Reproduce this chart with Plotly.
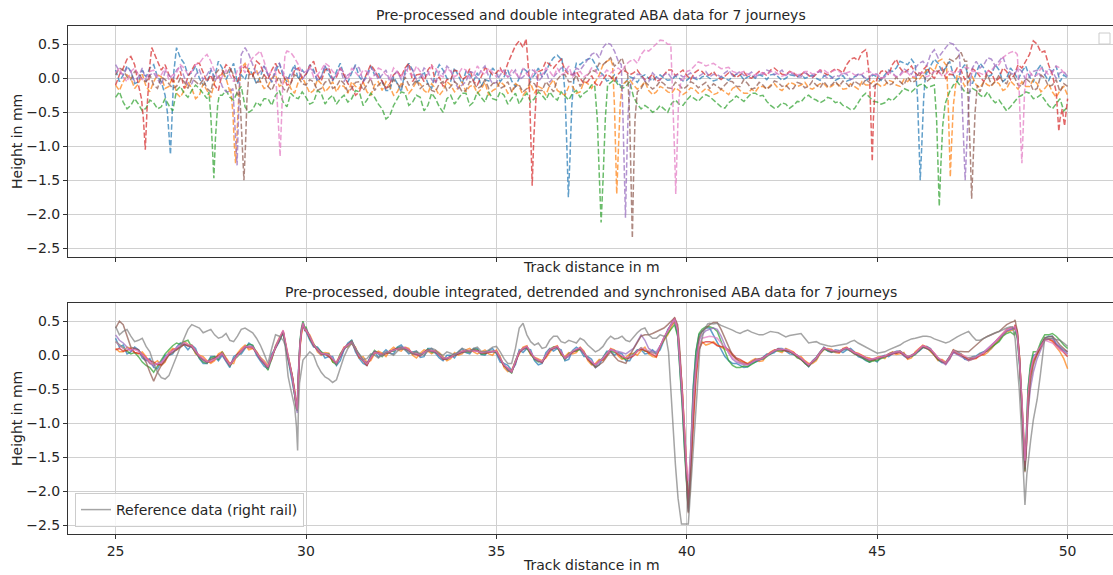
import numpy as np
import plotly.graph_objects as go

# ---------------- data ----------------
grid_x = np.round(np.linspace(25, 50, 126), 2)     # readings every 0.2 m
grid_mid = np.round(np.linspace(25.1, 49.9, 125), 2)  # in-between readings (noise)
ticks_x = [25, 30, 35, 40, 45, 50]
ticks_y = [0.5, 0.0, -0.5, -1.0, -1.5, -2.0, -2.5]
journeys = ["Journey 1", "Journey 2", "Journey 3", "Journey 4", "Journey 5", "Journey 6", "Journey 7"]
colors = ["#1f77b4", "#ff7f0e", "#2ca02c", "#d62728", "#9467bd", "#8c564b", "#e377c2"]

# ---- top panel: raw double-integrated journeys ----
top_blue = [
    0.12, 0.05, 0.10, -0.05, 0.02, 0.20, -0.05, -0.40, 0.45, 0.22,
    0.08, 0.00, -0.06, 0.02, 0.15, 0.10, -0.08, -0.02, 0.05, 0.02,
    0.06, 0.10, 0.03, 0.08, -0.02, 0.05, 0.12, 0.02, 0.06, 0.10,
    0.04, 0.08, 0.02, 0.06, 0.05, -0.05, -0.18, -0.08, 0.10, 0.12,
    -0.02, -0.08, 0.08, 0.12, -0.04, 0.04, 0.10, -0.04, -0.12, -0.04,
    0.08, 0.02, -0.04, 0.00, 0.10, 0.05, 0.02, 0.22, 0.34, 0.25,
    0.10, 0.20, 0.28, 0.20, 0.05, -0.02, -0.08, -0.05, 0.00, 0.02,
    0.00, 0.02, 0.00, -0.02, 0.00, -0.03, 0.00, 0.02, 0.00, -0.02,
    0.00, 0.02, 0.05, 0.02, 0.00, 0.03, 0.05, 0.02, 0.00, 0.04,
    0.06, 0.02, 0.00, 0.03, 0.02, 0.00, -0.04, 0.02, 0.05, 0.00,
    0.02, 0.05, 0.10, 0.25, 0.20, 0.10, -0.50, 0.18, 0.22, 0.15,
    0.05, 0.12, 0.02, 0.08, 0.15, 0.05, 0.12, 0.00, 0.08, 0.10,
    0.02, 0.12, 0.05, 0.10, -0.05, 0.00]
top_blue_mid = [
    -0.05, 0.18, -0.08, 0.12, 0.15, 0.02, -0.20, 0.10, 0.30, 0.05,
    0.18, -0.10, 0.12, 0.25, -0.02, 0.22, 0.05, 0.15, -0.08, 0.18,
    -0.06, 0.22, -0.05, 0.20, 0.12, 0.20, -0.05, 0.18, -0.04, 0.22,
    -0.06, 0.20, -0.05, 0.18, 0.08, -0.18, 0.02, -0.20, 0.22, -0.06,
    0.10, -0.15, 0.20, 0.00, 0.15, -0.08, 0.05, 0.08, -0.02, 0.15,
    -0.05, 0.12, -0.12, 0.15, -0.02, 0.15, 0.10, 0.30, 0.28, 0.00,
    0.22, 0.25, 0.30, 0.10, -0.04, 0.05, -0.12, 0.02, -0.06, 0.05,
    -0.04, 0.05, -0.03, 0.03, -0.04, 0.02, -0.03, 0.04, -0.04, 0.02,
    -0.03, 0.06, -0.02, 0.04, 0.05, -0.02, 0.06, -0.03, 0.05, 0.02,
    0.00, 0.05, -0.03, 0.06, -0.03, 0.04, -0.02, 0.06, -0.03, 0.05,
    -0.03, 0.12, 0.15, 0.22, 0.28, -1.00, 0.05, 0.28, 0.10, 0.25,
    -0.05, 0.20, -0.08, 0.22, 0.02, 0.20, -0.05, 0.15, -0.02, 0.18,
    -0.06, 0.20, -0.04, 0.18, 0.05]
top_blue_dip_x = [26.30, 26.36, 26.41, 26.44, 26.48, 26.53,
                  36.72, 36.80, 36.85, 36.89, 36.93, 36.98, 37.05,
                  46.00, 46.06, 46.10, 46.13, 46.17, 46.22, 46.28]
top_blue_dip_y = [-0.25, -0.50, -0.90, -1.12, -0.60, 0.10,
                  0.30, -0.20, -1.00, -1.75, -1.20, -0.40, 0.10,
                  0.20, -0.30, -0.90, -1.50, -1.00, -0.30, 0.15]

top_orange = [
    -0.10, -0.05, 0.00, -0.08, -0.12, -0.05, 0.02, -0.12, -0.22, -0.18,
    -0.15, -0.25, -0.18, -0.05, 0.08, -0.20, -0.60, 0.22, 0.05, -0.05,
    -0.12, 0.05, -0.08, -0.15, -0.05, -0.10, -0.18, -0.08, -0.14, -0.20,
    -0.12, -0.05, -0.15, -0.20, -0.10, -0.18, -0.12, -0.20, -0.10, -0.15,
    -0.08, -0.22, -0.15, -0.18, -0.10, -0.14, -0.20, -0.10, -0.16, -0.25,
    -0.15, -0.10, -0.20, -0.12, -0.18, -0.22, -0.15, -0.10, -0.18, -0.25,
    -0.12, -0.20, -0.08, -0.05, 0.20, 0.28, -0.60, -0.05, -0.10, -0.12,
    -0.18, -0.20, -0.15, -0.22, -0.18, -0.20, -0.16, -0.20, -0.18, -0.22,
    -0.20, -0.15, -0.18, -0.22, -0.20, -0.12, -0.10, -0.15, -0.12, -0.08,
    -0.10, -0.14, -0.12, -0.08, -0.12, -0.10, -0.15, -0.12, -0.05, -0.10,
    -0.08, -0.10, -0.05, -0.12, -0.05, 0.00, 0.05, 0.15, 0.25, 0.20,
    -0.30, 0.00, -0.05, -0.10, -0.05, -0.12, -0.08, -0.15, -0.10, -0.05,
    -0.12, -0.08, -0.15, -0.20, -0.18, -0.25]
top_orange_mid = [
    -0.18, 0.05, -0.15, 0.06, -0.20, 0.05, -0.15, 0.02, -0.28, -0.05,
    -0.30, -0.08, -0.28, 0.02, 0.00, -0.50, 0.10, 0.10, 0.12, -0.15,
    0.00, -0.12, 0.02, -0.22, 0.02, -0.22, -0.02, -0.20, -0.05, -0.10,
    -0.22, -0.12, -0.05, -0.25, -0.05, -0.05, -0.25, -0.08, -0.22, -0.05,
    -0.18, -0.08, -0.25, -0.05, -0.20, -0.05, -0.12, -0.22, -0.06, -0.18,
    -0.05, -0.22, -0.08, -0.25, -0.08, -0.12, -0.25, -0.02, -0.22, -0.12,
    -0.22, -0.05, -0.15, 0.05, 0.25, -0.50, -0.10, -0.02, -0.16, -0.05,
    -0.24, -0.12, -0.20, -0.14, -0.24, -0.14, -0.22, -0.15, -0.24, -0.16,
    -0.24, -0.12, -0.22, -0.16, -0.12, -0.16, -0.08, -0.18, -0.06, -0.12,
    -0.06, -0.16, -0.08, -0.14, -0.07, -0.16, -0.08, -0.16, -0.10, -0.04,
    -0.12, -0.03, -0.10, -0.02, 0.02, -0.02, 0.12, 0.10, 0.28, -1.00,
    0.05, -0.12, 0.02, -0.14, -0.10, -0.04, -0.18, -0.04, -0.16, -0.12,
    -0.02, -0.20, -0.08, -0.28, -0.12]
top_orange_dip_x = [28.02, 28.08, 28.12, 28.15, 28.19, 28.24, 28.30,
                    38.05, 38.10, 38.13, 38.16, 38.20, 38.25, 38.30,
                    46.82, 46.86, 46.90, 46.92, 46.95, 47.00, 47.06]
top_orange_dip_y = [-0.15, -0.50, -1.00, -1.25, -0.80, -0.20, 0.15,
                    0.20, -0.40, -1.20, -1.70, -1.10, -0.40, -0.10,
                    0.20, -0.30, -1.10, -1.45, -1.00, -0.40, -0.10]

top_green = [
    -0.28, -0.35, -0.40, -0.38, -0.44, -0.36, -0.42, -0.40, -0.18, -0.22,
    -0.18, -0.15, -0.30, -0.90, -0.25, -0.28, -0.20, -0.42, -0.46, -0.40,
    -0.30, -0.25, -0.35, -0.22, -0.30, -0.28, -0.35, -0.22, -0.30, -0.38,
    -0.25, -0.30, -0.20, -0.32, -0.28, -0.45, -0.55, -0.30, -0.22, -0.35,
    -0.28, -0.40, -0.30, -0.50, -0.25, -0.30, -0.22, -0.35, -0.28, -0.20,
    -0.32, -0.25, -0.30, -0.38, -0.22, -0.30, -0.25, -0.20, -0.32, -0.26,
    -0.22, -0.28, -0.18, -0.30, -1.50, -0.07, -0.10, -0.12, -0.27, -0.45,
    -0.44, -0.47, -0.45, -0.37, -0.38, -0.32, -0.30, -0.28, -0.27, -0.38,
    -0.44, -0.32, -0.30, -0.28, -0.22, -0.25, -0.40, -0.42, -0.38, -0.40,
    -0.35, -0.25, -0.32, -0.33, -0.30, -0.34, -0.42, -0.45, -0.27, -0.28,
    -0.35, -0.36, -0.33, -0.22, -0.18, -0.15, -0.08, -0.12, -1.00, -0.35,
    -0.10, -0.12, -0.22, -0.18, -0.28, -0.30, -0.32, -0.48, -0.35, -0.25,
    -0.22, -0.28, -0.32, -0.45, -0.30, -0.42]
top_green_mid = [
    -0.20, -0.45, -0.30, -0.48, -0.32, -0.45, -0.30, -0.48, -0.12, -0.28,
    -0.10, -0.22, -0.80, -0.40, -0.18, -0.32, -0.12, -0.50, -0.35, -0.30,
    -0.40, -0.18, -0.42, -0.28, -0.20, -0.38, -0.18, -0.38, -0.25, -0.30,
    -0.35, -0.18, -0.40, -0.22, -0.38, -0.60, -0.40, -0.20, -0.40, -0.25,
    -0.48, -0.22, -0.42, -0.30, -0.38, -0.22, -0.40, -0.20, -0.35, -0.30,
    -0.20, -0.38, -0.22, -0.28, -0.35, -0.20, -0.32, -0.28, -0.20, -0.32,
    -0.18, -0.22, -0.10, -1.40, -0.20, -0.02, -0.15, -0.05, -0.38, -0.40,
    -0.50, -0.40, -0.50, -0.32, -0.40, -0.26, -0.34, -0.24, -0.32, -0.42,
    -0.36, -0.26, -0.34, -0.22, -0.26, -0.34, -0.44, -0.36, -0.44, -0.34,
    -0.28, -0.30, -0.36, -0.28, -0.36, -0.40, -0.46, -0.36, -0.22, -0.34,
    -0.38, -0.30, -0.28, -0.15, -0.20, -0.10, -0.14, -0.30, -1.00, -0.20,
    -0.05, -0.20, -0.15, -0.25, -0.20, -0.36, -0.40, -0.42, -0.28, -0.20,
    -0.30, -0.24, -0.40, -0.38, -0.48]
top_green_dip_x = [27.45, 27.50, 27.55, 27.58, 27.62, 27.68, 27.72,
                   37.58, 37.65, 37.70, 37.75, 37.80, 37.86, 37.92,
                   46.50, 46.56, 46.60, 46.63, 46.67, 46.72, 46.78]
top_green_dip_y = [-0.20, -0.55, -1.10, -1.47, -0.90, -0.40, -0.25,
                   -0.10, -0.60, -1.40, -2.12, -1.50, -0.60, -0.10,
                   -0.10, -0.60, -1.30, -1.88, -1.30, -0.70, -0.40]

top_red = [
    -0.10, 0.15, 0.32, -0.10, -0.30, 0.38, 0.12, 0.05, -0.02, -0.15,
    0.12, 0.22, -0.05, -0.10, 0.08, 0.15, -0.05, 0.18, 0.02, 0.20,
    -0.02, 0.22, 0.05, -0.08, 0.15, 0.06, 0.25, -0.04, 0.15, 0.02,
    0.05, -0.12, -0.20, 0.08, 0.12, -0.04, -0.08, 0.10, 0.15, -0.05,
    0.06, 0.12, -0.06, -0.12, -0.02, 0.10, 0.02, -0.05, 0.02, 0.12,
    0.08, 0.05, 0.35, 0.55, 0.30, -0.50, 0.12, 0.20, 0.22, 0.12,
    0.05, 0.00, -0.05, -0.08, -0.02, 0.02, 0.06, 0.10, 0.08, 0.04,
    0.00, -0.05, 0.05, 0.12, 0.08, 0.04, 0.08, 0.10, 0.05, 0.02,
    0.03, 0.06, 0.05, 0.02, 0.05, 0.08, 0.12, 0.10, 0.05, 0.08,
    0.05, 0.04, 0.06, 0.08, 0.10, 0.12, 0.20, 0.30, 0.38, 0.35,
    0.00, 0.12, 0.20, 0.15, 0.12, 0.08, 0.12, 0.05, 0.10, 0.00,
    0.05, 0.12, 0.02, 0.10, -0.05, 0.08, 0.00, 0.10, 0.05, 0.15,
    0.35, 0.50, 0.40, 0.05, -0.60, -0.30]
top_red_mid = [
    0.05, 0.28, 0.20, -0.40, 0.20, 0.25, 0.20, -0.05, 0.10, 0.02,
    0.22, 0.08, 0.05, -0.18, 0.20, 0.02, 0.12, 0.08, 0.25, 0.05,
    0.12, 0.08, -0.10, 0.12, 0.00, 0.18, 0.05, 0.12, -0.02, 0.15,
    -0.08, -0.25, -0.05, 0.20, 0.02, -0.15, 0.05, 0.02, 0.22, 0.05,
    -0.05, 0.20, 0.02, -0.02, 0.12, -0.02, 0.14, -0.10, 0.15, 0.05,
    0.15, 0.22, 0.48, 0.45, -1.00, 0.00, 0.25, 0.15, 0.28, 0.05,
    0.10, -0.08, 0.04, -0.12, 0.06, -0.04, 0.12, 0.05, 0.12, -0.02,
    0.06, -0.02, 0.12, 0.04, 0.12, -0.02, 0.12, 0.04, 0.10, -0.02,
    0.08, 0.01, 0.09, 0.00, 0.10, 0.04, 0.15, 0.06, 0.10, 0.03,
    0.10, 0.01, 0.12, 0.05, 0.14, 0.08, 0.28, 0.26, 0.42, -1.00,
    0.10, 0.05, 0.28, 0.08, 0.18, 0.02, 0.18, 0.00, 0.15, 0.06,
    0.15, -0.02, 0.14, 0.02, 0.12, -0.05, 0.15, -0.02, 0.20, 0.25,
    0.55, 0.38, 0.20, -0.30, -0.50]
top_red_dip_x = [25.68, 25.73, 25.78, 25.83, 25.90, 25.95,
                 35.78, 35.86, 35.90, 35.94, 35.98, 36.05, 36.10,
                 44.72, 44.80, 44.84, 44.87, 44.90, 44.95,
                 49.70, 49.74, 49.77, 49.80, 49.86, 49.92]
top_red_dip_y = [-0.30, -0.60, -1.05, -0.40, 0.20, 0.45,
                 0.58, 0.00, -0.80, -1.58, -0.90, -0.20, 0.10,
                 0.40, 0.00, -0.70, -1.22, -0.60, -0.10,
                 -0.20, -0.55, -0.78, -0.60, -0.45, -0.70]

top_purple = [
    0.20, 0.05, 0.10, 0.02, -0.05, 0.08, -0.10, 0.05, 0.12, 0.02,
    -0.08, 0.12, 0.05, -0.05, -0.12, -0.20, -0.50, 0.45, 0.20, 0.10,
    0.05, 0.15, 0.08, 0.00, 0.12, 0.06, 0.10, 0.02, 0.12, 0.05,
    -0.05, 0.08, 0.15, 0.02, 0.10, 0.05, -0.05, 0.10, 0.05, 0.12,
    0.02, 0.10, -0.08, 0.06, 0.12, -0.15, -0.05, 0.08, 0.12, 0.02,
    -0.06, 0.12, 0.05, -0.02, 0.08, 0.10, 0.02, -0.06, 0.08, 0.15,
    0.05, 0.12, 0.28, 0.38, 0.45, 0.50, 0.25, -0.80, 0.00, 0.05,
    -0.05, 0.02, 0.05, 0.00, 0.06, 0.04, 0.00, 0.06, 0.02, 0.05,
    0.08, 0.04, 0.10, 0.05, 0.02, 0.06, 0.10, 0.08, 0.04, 0.06,
    0.02, 0.05, 0.08, 0.04, 0.00, 0.03, 0.06, 0.00, 0.04, 0.02,
    0.06, 0.02, 0.08, 0.05, 0.10, 0.15, 0.25, 0.35, 0.30, 0.45,
    0.50, 0.20, -0.40, 0.25, 0.20, 0.28, 0.25, 0.15, 0.05, 0.10,
    0.02, 0.12, 0.05, 0.10, 0.08, 0.02]
top_purple_mid = [
    0.10, 0.15, -0.05, 0.15, 0.05, -0.02, 0.10, -0.02, 0.18, -0.10,
    0.05, -0.02, 0.15, 0.05, -0.20, -0.60, 0.35, 0.35, 0.05, 0.18,
    -0.05, 0.22, 0.00, 0.15, -0.02, 0.15, -0.02, 0.18, -0.02, 0.15,
    0.05, 0.18, -0.05, 0.15, -0.02, 0.12, 0.05, -0.02, 0.18, -0.02,
    0.15, -0.02, 0.10, 0.18, -0.05, -0.10, 0.10, 0.00, 0.18, -0.08,
    0.05, 0.02, 0.12, 0.02, 0.14, -0.05, 0.12, 0.02, 0.15, 0.08,
    0.15, 0.20, 0.35, 0.30, 0.52, 0.40, 0.00, -0.30, 0.06, -0.04,
    0.08, -0.02, 0.08, 0.04, 0.02, 0.08, 0.02, 0.10, 0.06, 0.02,
    0.12, 0.06, 0.04, 0.09, 0.06, 0.12, 0.05, 0.12, 0.08, 0.02,
    0.08, 0.02, 0.10, 0.00, 0.04, 0.08, -0.02, 0.06, 0.00, 0.07,
    0.00, 0.10, 0.02, 0.14, 0.06, 0.22, 0.18, 0.42, 0.38, 0.52,
    0.42, -1.00, 0.15, 0.15, 0.30, 0.18, 0.32, 0.08, 0.15, -0.02,
    0.10, 0.02, 0.14, 0.00, 0.10]
top_purple_dip_x = [28.08, 28.13, 28.17, 28.19, 28.22, 28.26, 28.30,
                    38.28, 38.32, 38.36, 38.39, 38.42, 38.46, 38.52,
                    47.15, 47.22, 47.27, 47.31, 47.35, 47.40, 47.46]
top_purple_dip_y = [-0.15, -0.60, -1.10, -1.28, -0.70, 0.00, 0.35,
                    0.20, -0.50, -1.40, -2.05, -1.30, -0.50, -0.10,
                    0.40, -0.20, -1.00, -1.50, -1.00, -0.40, 0.00]

top_brown = [
    0.05, 0.12, -0.02, 0.08, -0.05, -0.10, 0.02, -0.08, -0.12, -0.05,
    0.00, -0.10, -0.15, 0.05, 0.12, 0.15, -0.25, -0.80, 0.05, -0.05,
    -0.12, -0.05, -0.15, -0.08, 0.02, -0.10, -0.05, -0.15, -0.02, -0.12,
    -0.08, -0.15, -0.05, -0.10, -0.18, -0.05, -0.12, -0.08, 0.02, -0.10,
    -0.15, -0.08, -0.20, -0.05, -0.12, -0.10, -0.18, -0.06, -0.12, -0.15,
    -0.05, -0.12, -0.20, -0.10, -0.15, -0.08, -0.18, -0.12, -0.02, 0.05,
    -0.05, -0.12, 0.05, 0.10, 0.20, 0.30, 0.22, 0.10, -1.00, -0.15,
    -0.10, -0.12, -0.08, -0.15, -0.10, -0.12, -0.08, -0.10, -0.15, -0.12,
    -0.10, -0.05, -0.12, -0.08, -0.14, -0.10, -0.12, -0.06, -0.10, -0.15,
    -0.08, -0.12, -0.10, -0.05, -0.10, -0.12, -0.08, -0.04, -0.10, -0.06,
    -0.08, -0.02, -0.08, -0.05, 0.02, -0.04, 0.05, 0.00, 0.10, 0.15,
    0.25, 0.38, -0.50, -0.60, -0.05, -0.10, 0.05, -0.08, 0.02, -0.12,
    -0.05, -0.15, 0.00, -0.10, -0.20, -0.12]
top_brown_mid = [
    0.15, 0.02, 0.10, -0.02, 0.05, -0.15, -0.02, -0.15, 0.00, -0.15,
    -0.05, -0.02, -0.20, 0.12, 0.05, 0.05, -0.50, 0.00, -0.06, 0.05,
    -0.18, 0.02, -0.20, 0.05, -0.08, -0.02, -0.18, -0.06, -0.15, -0.02,
    -0.20, -0.06, -0.18, 0.00, -0.10, -0.15, -0.02, -0.15, -0.10, -0.02,
    -0.10, -0.18, -0.08, -0.18, -0.05, -0.20, -0.05, -0.15, -0.02, -0.08,
    -0.15, -0.05, -0.12, -0.20, -0.05, -0.18, -0.05, -0.20, 0.05, -0.05,
    0.05, -0.02, 0.12, 0.22, 0.25, 0.18, 0.30, -0.50, -0.30, -0.05,
    -0.16, -0.04, -0.14, -0.06, -0.16, -0.05, -0.14, -0.06, -0.08, -0.16,
    -0.04, -0.12, -0.02, -0.16, -0.06, -0.16, -0.04, -0.12, -0.16, -0.06,
    -0.14, -0.04, -0.14, -0.12, -0.04, -0.04, -0.14, -0.08, -0.02, -0.12,
    0.00, -0.10, 0.02, -0.10, -0.06, 0.08, -0.05, 0.12, 0.05, 0.28,
    0.30, 0.25, -1.00, -0.20, 0.05, -0.05, -0.05, 0.06, -0.10, 0.00,
    -0.18, 0.05, -0.12, -0.02, -0.08]
top_brown_dip_x = [28.26, 28.31, 28.34, 28.37, 28.41, 28.45, 28.50,
                   38.45, 38.50, 38.54, 38.57, 38.60, 38.64, 38.70,
                   47.35, 47.40, 47.45, 47.48, 47.52, 47.57, 47.63]
top_brown_dip_y = [-0.20, -0.70, -1.20, -1.50, -1.00, -0.30, 0.05,
                   0.05, -0.60, -1.60, -2.35, -1.50, -0.60, -0.20,
                   0.25, -0.40, -1.20, -1.77, -1.20, -0.50, -0.10]

top_pink = [
    0.08, 0.02, 0.10, 0.05, 0.00, 0.12, 0.05, -0.02, 0.08, 0.15,
    0.10, 0.22, 0.35, 0.10, 0.02, 0.05, 0.12, 0.08, 0.30, 0.40,
    0.05, -0.20, -0.50, 0.38, 0.20, 0.10, 0.02, 0.12, 0.18, 0.05,
    0.08, 0.15, 0.02, 0.10, 0.05, 0.12, 0.00, 0.08, 0.14, 0.04,
    0.10, 0.06, 0.15, 0.02, 0.10, 0.06, 0.12, 0.04, 0.10, 0.15,
    0.02, 0.08, 0.12, 0.00, 0.06, 0.12, 0.05, 0.10, 0.15, 0.08,
    0.02, 0.10, 0.06, 0.12, 0.05, 0.08, 0.15, 0.20, 0.28, 0.35,
    0.40, 0.50, 0.55, -0.80, -0.20, 0.10, 0.18, 0.22, 0.20, 0.18,
    0.15, 0.10, 0.08, 0.06, 0.05, 0.08, 0.10, 0.06, 0.05, 0.08,
    0.06, 0.10, 0.08, 0.12, 0.10, 0.10, 0.08, 0.05, 0.06, 0.10,
    0.05, 0.02, 0.06, 0.04, 0.08, 0.03, 0.08, 0.05, 0.10, 0.06,
    0.08, 0.12, 0.15, 0.10, 0.05, 0.12, 0.20, 0.35, 0.40, -1.00,
    0.10, 0.05, 0.12, 0.08, 0.15, 0.10]
top_pink_mid = [
    0.15, -0.05, 0.15, -0.02, 0.10, 0.02, 0.15, 0.05, 0.20, 0.05,
    0.20, 0.30, 0.25, -0.02, 0.12, -0.05, 0.18, 0.22, 0.35, 0.25,
    0.10, -1.00, 0.40, 0.30, 0.08, 0.18, 0.05, 0.22, 0.10, 0.15,
    -0.02, 0.08, 0.12, -0.02, 0.15, 0.05, 0.15, 0.02, 0.08, 0.18,
    0.00, 0.18, 0.05, 0.15, 0.02, 0.15, 0.00, 0.18, 0.05, 0.08,
    0.12, 0.02, 0.08, 0.15, 0.00, 0.05, 0.15, 0.02, 0.05, 0.18,
    0.08, 0.02, 0.15, 0.02, 0.12, 0.12, 0.10, 0.25, 0.22, 0.42,
    0.45, 0.56, 0.50, -1.00, -0.05, 0.12, 0.24, 0.18, 0.22, 0.14,
    0.16, 0.08, 0.10, 0.04, 0.08, 0.05, 0.10, 0.03, 0.09, 0.05,
    0.10, 0.06, 0.12, 0.08, 0.12, 0.06, 0.10, 0.04, 0.10, 0.06,
    0.00, 0.08, 0.02, 0.10, 0.02, 0.08, 0.02, 0.10, 0.04, 0.12,
    0.08, 0.16, 0.10, 0.08, 0.10, 0.18, 0.30, 0.38, 0.35, 0.00,
    0.02, 0.15, 0.05, 0.18, 0.08]
top_pink_dip_x = [29.20, 29.25, 29.29, 29.32, 29.35, 29.39, 29.45,
                  39.58, 39.63, 39.68, 39.71, 39.74, 39.78, 39.85,
                  48.68, 48.73, 48.77, 48.80, 48.83, 48.87, 48.92]
top_pink_dip_y = [0.10, -0.40, -0.90, -1.15, -0.70, -0.10, 0.35,
                  0.50, -0.20, -1.10, -1.70, -1.10, -0.40, 0.00,
                  0.35, -0.20, -0.90, -1.25, -0.80, -0.20, 0.05]

# ---- bottom panel: detrended and synchronised journeys ----
sync_dip_x = [29.50, 29.58, 29.64, 29.70, 29.74, 29.77, 29.80, 29.84, 29.88, 29.92, 29.97,
              39.68, 39.76, 39.82, 39.88, 39.94, 40.00, 40.04, 40.08, 40.12, 40.17, 40.24, 40.32,
              48.62, 48.68, 48.74, 48.80, 48.85, 48.88, 48.92, 48.96, 49.02, 49.10]

sync_blue = [
    0.25, 0.15, 0.05, 0.08, -0.08, -0.18, -0.10, 0.00, 0.12, 0.15,
    0.15, -0.05, -0.12, -0.02, 0.00, -0.18, 0.02, 0.10, 0.14, -0.08,
    -0.20, 0.10, 0.33, -0.15, -0.30, 0.35, 0.12, 0.05, -0.02, -0.15,
    0.08, 0.22, -0.05, -0.15, 0.05, 0.02, 0.03, 0.12, 0.08, 0.05,
    -0.03, 0.10, 0.03, -0.08, 0.00, 0.05, 0.04, 0.10, 0.01, 0.07,
    0.02, -0.12, -0.22, 0.08, 0.10, -0.08, -0.12, 0.10, 0.10, -0.08,
    0.07, 0.08, -0.02, -0.18, -0.03, 0.06, 0.04, -0.08, 0.02, 0.08,
    0.03, 0.02, 0.22, 0.45, 0.30, -1.80, -0.50, 0.35, 0.40, 0.20,
    -0.02, -0.12, -0.15, -0.17, -0.10, -0.03, 0.02, 0.10, 0.06, 0.01,
    -0.06, -0.17, -0.03, 0.12, 0.04, 0.07, 0.08, 0.05, -0.04, -0.10,
    -0.10, 0.00, 0.02, 0.06, -0.05, 0.03, 0.11, 0.10, -0.07, -0.10,
    0.04, 0.02, -0.07, -0.01, 0.05, 0.10, 0.22, 0.35, 0.40, -1.00,
    -0.30, 0.02, 0.25, 0.28, 0.12, 0.02]
sync_blue_mid = [
    0.12, 0.02, 0.12, -0.04, -0.05, -0.20, 0.00, 0.02, 0.18, 0.08,
    0.10, -0.12, -0.02, -0.08, -0.10, -0.02, 0.02, 0.18, 0.00, -0.16,
    0.02, 0.20, 0.00, 0.00, 0.00, 0.22, 0.12, -0.04, -0.02, -0.08,
    0.18, 0.05, -0.12, 0.00, -0.03, 0.08, 0.02, 0.15, 0.02, 0.06,
    -0.02, 0.10, -0.04, 0.00, -0.04, 0.10, 0.02, 0.10, 0.00, 0.10,
    -0.10, -0.15, -0.14, 0.04, 0.08, -0.14, 0.04, 0.06, 0.08, -0.06,
    0.12, -0.02, -0.06, -0.14, 0.06, 0.00, 0.02, -0.08, 0.08, 0.02,
    0.08, 0.08, 0.38, 0.00, 0.00, 0.00, 0.00, 0.40, 0.30, 0.10,
    -0.08, -0.12, -0.18, -0.12, -0.08, 0.02, 0.04, 0.10, 0.02, 0.00,
    -0.12, -0.08, 0.05, 0.06, 0.08, 0.04, 0.10, -0.02, -0.08, -0.06,
    -0.02, -0.02, 0.06, -0.01, 0.00, 0.06, 0.13, 0.00, -0.11, -0.02,
    0.05, -0.06, -0.02, 0.03, 0.06, 0.17, 0.30, 0.38, 0.00, 0.00,
    0.00, 0.16, 0.28, 0.16, 0.06]
sync_blue_dip_y = [0.03, -0.18, -0.35, -0.58, -0.72, -0.70, -0.25, 0.18, 0.38, 0.45, 0.36,
                   0.48, 0.30, -0.15, -0.70, -1.35, -2.00, -2.25, -1.70, -1.00, -0.45, 0.05, 0.30,
                   0.38, 0.28, -0.15, -0.80, -1.40, -1.68, -1.10, -0.50, -0.20, 0.00]

sync_orange = [
    0.10, 0.05, 0.10, 0.02, -0.02, -0.12, -0.15, 0.05, 0.08, 0.20,
    0.15, 0.00, -0.08, -0.08, 0.05, -0.12, 0.03, 0.15, 0.10, -0.03,
    -0.15, 0.14, 0.36, -0.20, -0.30, 0.36, 0.18, 0.00, 0.03, -0.10,
    0.12, 0.18, -0.04, -0.10, 0.02, 0.03, 0.07, 0.08, 0.12, 0.00,
    0.03, 0.06, 0.07, -0.02, -0.05, 0.00, 0.08, 0.05, 0.05, 0.02,
    0.08, -0.18, -0.22, 0.02, 0.14, -0.03, -0.08, 0.05, 0.14, -0.02,
    0.02, 0.12, -0.08, -0.12, -0.08, 0.10, -0.01, -0.03, 0.03, 0.07,
    0.02, -0.03, 0.22, 0.42, 0.30, -1.80, -0.50, 0.20, 0.17, 0.15,
    0.10, 0.00, -0.08, -0.12, -0.05, -0.08, 0.05, 0.06, 0.10, 0.05,
    -0.02, -0.12, -0.08, 0.08, 0.09, 0.03, 0.12, 0.05, 0.00, -0.04,
    -0.03, -0.05, 0.05, 0.02, -0.06, 0.05, 0.15, 0.05, -0.08, -0.10,
    0.08, 0.02, -0.08, -0.05, 0.00, 0.10, 0.22, 0.35, 0.38, -1.00,
    -0.30, 0.00, 0.22, 0.20, 0.05, -0.20]
sync_orange_mid = [
    0.05, 0.12, 0.04, 0.05, -0.12, -0.08, -0.10, 0.10, 0.12, 0.16,
    0.02, -0.02, -0.12, 0.02, -0.04, -0.12, 0.10, 0.08, 0.06, -0.08,
    -0.06, 0.26, 0.00, 0.00, 0.00, 0.30, 0.05, 0.04, -0.10, 0.02,
    0.12, 0.12, -0.02, -0.08, 0.06, -0.02, 0.12, 0.06, 0.10, -0.04,
    0.08, 0.02, 0.04, -0.08, 0.04, 0.02, 0.10, 0.02, 0.08, 0.00,
    -0.02, -0.24, -0.08, 0.12, 0.00, -0.05, -0.04, 0.12, 0.00, 0.04,
    0.04, 0.06, -0.14, -0.06, 0.00, 0.08, -0.06, 0.02, 0.00, 0.12,
    -0.02, 0.14, 0.30, 0.00, 0.00, 0.00, 0.00, 0.15, 0.20, 0.12,
    0.06, -0.06, -0.10, -0.08, -0.09, 0.00, 0.08, 0.04, 0.08, -0.02,
    -0.08, -0.12, 0.02, 0.10, 0.04, 0.10, 0.06, 0.03, -0.03, -0.08,
    -0.02, 0.02, 0.01, 0.04, -0.04, 0.10, 0.12, 0.00, -0.06, -0.06,
    0.02, -0.02, -0.06, 0.02, 0.04, 0.16, 0.28, 0.36, 0.00, 0.00,
    0.00, 0.10, 0.24, 0.12, -0.05]
sync_orange_dip_y = [0.08, -0.12, -0.30, -0.50, -0.70, -0.78, -0.35, 0.10, 0.30, 0.44, 0.40,
                     0.50, 0.38, -0.05, -0.50, -1.10, -1.80, -2.20, -2.00, -1.50, -0.90, -0.30, 0.10,
                     0.42, 0.32, -0.05, -0.60, -1.20, -1.60, -1.30, -0.70, -0.30, -0.10]

sync_green = [
    0.20, 0.10, 0.02, -0.02, -0.15, -0.25, -0.08, 0.08, 0.18, 0.20,
    0.12, -0.04, -0.12, -0.02, 0.05, -0.16, -0.02, 0.12, 0.15, -0.04,
    -0.22, 0.12, 0.34, -0.10, -0.30, 0.42, 0.16, 0.05, 0.02, -0.14,
    0.10, 0.22, 0.00, -0.14, 0.07, -0.02, 0.06, 0.11, 0.09, 0.04,
    0.01, 0.09, 0.04, -0.04, -0.01, 0.04, 0.05, 0.09, 0.02, 0.06,
    0.04, -0.14, -0.26, 0.06, 0.10, -0.06, -0.09, 0.09, 0.11, -0.06,
    0.06, 0.09, -0.04, -0.16, -0.04, 0.07, 0.03, -0.06, 0.01, 0.11,
    0.06, 0.02, 0.24, 0.40, 0.30, -1.80, -0.50, 0.38, 0.42, 0.35,
    0.05, -0.15, -0.18, -0.17, -0.10, -0.06, 0.02, 0.07, 0.09, 0.02,
    -0.06, -0.16, -0.06, 0.09, 0.05, 0.06, 0.09, 0.02, -0.03, -0.10,
    -0.08, -0.03, 0.04, 0.06, -0.02, 0.01, 0.12, 0.07, -0.06, -0.11,
    0.07, 0.01, -0.04, -0.02, 0.04, 0.12, 0.20, 0.32, 0.30, -1.00,
    -0.30, 0.05, 0.30, 0.32, 0.22, 0.10]
sync_green_mid = [
    0.15, 0.06, 0.04, -0.10, -0.18, -0.16, 0.02, 0.14, 0.16, 0.22,
    0.04, -0.10, -0.04, -0.06, -0.06, -0.06, 0.05, 0.16, 0.04, -0.12,
    -0.04, 0.22, 0.00, 0.00, 0.00, 0.24, 0.10, 0.02, -0.10, 0.02,
    0.14, 0.10, -0.08, -0.02, 0.02, 0.04, 0.06, 0.12, 0.06, 0.04,
    0.04, 0.04, 0.02, -0.06, 0.02, 0.06, 0.04, 0.08, 0.02, 0.06,
    -0.06, -0.22, -0.08, 0.10, 0.02, -0.10, 0.00, 0.12, 0.02, 0.02,
    0.06, 0.04, -0.12, -0.08, 0.04, 0.04, -0.04, -0.02, 0.06, 0.06,
    0.04, 0.12, 0.32, 0.00, 0.00, 0.00, 0.00, 0.42, 0.40, 0.20,
    -0.08, -0.18, -0.16, -0.14, -0.06, -0.02, 0.06, 0.06, 0.05, -0.04,
    -0.12, -0.10, 0.03, 0.07, 0.05, 0.08, 0.06, 0.00, -0.07, -0.08,
    -0.05, 0.02, 0.03, 0.02, -0.02, 0.07, 0.10, 0.02, -0.10, -0.04,
    0.04, -0.04, -0.03, 0.01, 0.08, 0.16, 0.28, 0.34, 0.00, 0.00,
    0.00, 0.20, 0.30, 0.28, 0.15]
sync_green_dip_y = [0.02, -0.16, -0.33, -0.57, -0.78, -0.82, -0.28, 0.20, 0.40, 0.50, 0.40,
                    0.45, 0.28, -0.20, -0.75, -1.40, -2.05, -2.30, -1.75, -1.05, -0.50, 0.05, 0.32,
                    0.35, 0.25, -0.15, -0.75, -1.35, -1.70, -1.15, -0.50, -0.15, 0.05]

sync_red = [
    0.08, 0.06, 0.10, 0.03, -0.04, -0.10, -0.14, 0.01, 0.10, 0.16,
    0.14, -0.01, -0.09, -0.06, 0.03, -0.13, 0.01, 0.13, 0.11, -0.06,
    -0.17, 0.11, 0.36, -0.15, -0.30, 0.37, 0.14, 0.03, -0.02, -0.11,
    0.11, 0.19, -0.03, -0.15, 0.04, 0.01, 0.04, 0.09, 0.11, 0.02,
    -0.01, 0.07, 0.06, -0.06, -0.03, 0.02, 0.07, 0.07, 0.04, 0.04,
    0.06, -0.16, -0.24, 0.04, 0.13, -0.04, -0.11, 0.07, 0.13, -0.04,
    0.04, 0.11, -0.06, -0.14, -0.06, 0.09, 0.01, -0.04, -0.01, 0.09,
    0.04, -0.02, 0.26, 0.46, 0.30, -1.80, -0.50, 0.18, 0.20, 0.14,
    0.12, 0.02, -0.06, -0.13, -0.07, -0.04, 0.04, 0.09, 0.07, 0.04,
    -0.04, -0.14, -0.04, 0.11, 0.07, 0.04, 0.11, 0.04, -0.01, -0.06,
    -0.04, -0.01, 0.02, 0.04, -0.04, 0.03, 0.14, 0.09, -0.04, -0.13,
    0.05, -0.01, -0.06, -0.04, 0.02, 0.14, 0.26, 0.38, 0.40, -1.00,
    -0.30, 0.03, 0.24, 0.22, 0.10, -0.02]
sync_red_mid = [
    0.10, 0.07, 0.04, 0.02, -0.08, -0.14, -0.06, 0.08, 0.12, 0.14,
    0.06, -0.06, -0.10, 0.00, -0.06, -0.07, 0.07, 0.11, 0.04, -0.12,
    -0.02, 0.24, 0.00, 0.00, 0.00, 0.26, 0.09, 0.02, -0.07, -0.02,
    0.16, 0.08, -0.08, -0.05, 0.04, 0.02, 0.09, 0.09, 0.08, 0.01,
    0.05, 0.06, 0.00, -0.05, 0.00, 0.06, 0.06, 0.07, 0.03, 0.06,
    -0.06, -0.19, -0.11, 0.10, 0.03, -0.07, -0.02, 0.11, 0.03, 0.01,
    0.07, 0.04, -0.11, -0.09, 0.01, 0.06, -0.02, -0.04, 0.06, 0.07,
    0.02, 0.13, 0.36, 0.00, 0.00, 0.00, 0.00, 0.20, 0.18, 0.13,
    0.08, -0.04, -0.10, -0.10, -0.06, 0.00, 0.07, 0.08, 0.06, 0.00,
    -0.09, -0.09, 0.04, 0.09, 0.06, 0.09, 0.08, 0.02, -0.04, -0.05,
    -0.03, 0.00, 0.03, 0.00, -0.01, 0.09, 0.12, 0.03, -0.08, -0.04,
    0.02, -0.04, -0.05, -0.01, 0.08, 0.20, 0.32, 0.40, 0.00, 0.00,
    0.00, 0.14, 0.23, 0.15, 0.04]
sync_red_dip_y = [0.05, -0.14, -0.31, -0.53, -0.74, -0.79, -0.32, 0.12, 0.33, 0.46, 0.37,
                  0.55, 0.40, 0.00, -0.50, -1.10, -1.75, -2.10, -1.95, -1.50, -0.95, -0.35, 0.08,
                  0.45, 0.35, -0.05, -0.65, -1.25, -1.62, -1.25, -0.65, -0.30, -0.08]

sync_purple = [
    0.30, 0.18, 0.06, 0.08, -0.06, -0.16, -0.10, 0.03, 0.09, 0.17,
    0.12, -0.03, -0.11, -0.04, 0.01, -0.14, -0.01, 0.11, 0.13, -0.06,
    -0.19, 0.13, 0.35, -0.15, -0.30, 0.39, 0.15, 0.01, 0.01, -0.13,
    0.09, 0.21, -0.01, -0.11, 0.06, -0.01, 0.05, 0.10, 0.11, 0.03,
    0.00, 0.08, 0.04, -0.05, -0.02, 0.03, 0.06, 0.08, 0.03, 0.05,
    0.05, -0.15, -0.25, 0.05, 0.12, -0.05, -0.10, 0.08, 0.12, -0.05,
    0.05, 0.10, -0.05, -0.15, -0.05, 0.08, 0.06, 0.02, 0.10, 0.30,
    0.10, 0.05, 0.26, 0.47, 0.30, -1.80, -0.50, 0.30, 0.38, 0.38,
    0.15, -0.06, -0.12, -0.14, -0.08, -0.05, 0.03, 0.08, 0.08, 0.03,
    -0.05, -0.15, -0.05, 0.10, 0.06, 0.05, 0.10, 0.03, -0.02, -0.07,
    -0.05, -0.02, 0.03, 0.05, -0.03, 0.02, 0.13, 0.08, -0.05, -0.14,
    0.04, -0.02, -0.08, -0.03, 0.05, 0.15, 0.24, 0.36, 0.40, -1.00,
    -0.35, -0.05, 0.22, 0.25, 0.12, 0.05]
sync_purple_mid = [
    0.22, 0.12, 0.10, 0.00, -0.12, -0.12, -0.04, 0.05, 0.15, 0.14,
    0.05, -0.08, -0.06, -0.04, -0.08, -0.06, 0.05, 0.14, 0.03, -0.12,
    -0.04, 0.24, 0.00, 0.00, 0.00, 0.28, 0.07, 0.02, -0.06, -0.02,
    0.15, 0.10, -0.08, -0.03, 0.02, 0.04, 0.07, 0.12, 0.06, 0.02,
    0.04, 0.06, 0.00, -0.05, 0.02, 0.04, 0.07, 0.06, 0.05, 0.04,
    -0.06, -0.22, -0.09, 0.08, 0.04, -0.09, 0.00, 0.09, 0.05, -0.02,
    0.08, 0.02, -0.10, -0.10, 0.02, 0.07, 0.04, 0.06, 0.20, 0.22,
    0.06, 0.14, 0.36, 0.00, 0.00, 0.00, 0.00, 0.36, 0.40, 0.28,
    0.03, -0.10, -0.14, -0.11, -0.07, -0.01, 0.06, 0.08, 0.06, -0.01,
    -0.10, -0.10, 0.03, 0.08, 0.05, 0.08, 0.06, 0.00, -0.05, -0.06,
    -0.04, 0.01, 0.04, 0.01, -0.01, 0.08, 0.10, 0.01, -0.10, -0.06,
    0.01, -0.05, -0.06, 0.01, 0.10, 0.20, 0.30, 0.38, 0.00, 0.00,
    0.00, 0.10, 0.24, 0.18, 0.08]
sync_purple_dip_y = [0.04, -0.15, -0.33, -0.56, -0.76, -0.85, -0.30, 0.14, 0.36, 0.48, 0.39,
                     0.52, 0.36, -0.10, -0.65, -1.25, -1.95, -2.30, -1.85, -1.20, -0.60, -0.10, 0.22,
                     0.40, 0.30, -0.10, -0.70, -1.30, -1.65, -1.30, -0.85, -0.50, -0.25]

sync_brown = [
    0.40, 0.45, 0.12, 0.08, -0.10, -0.38, -0.15, 0.00, 0.08, 0.16,
    0.12, -0.02, -0.10, -0.04, 0.02, -0.15, 0.01, 0.12, 0.12, -0.05,
    -0.18, 0.12, 0.34, -0.15, -0.30, 0.38, 0.15, 0.02, 0.00, -0.12,
    0.10, 0.20, -0.02, -0.12, 0.05, 0.00, 0.05, 0.10, 0.10, 0.03,
    0.00, 0.08, 0.05, -0.05, -0.02, 0.03, 0.06, 0.08, 0.03, 0.05,
    0.05, -0.15, -0.25, 0.05, 0.12, -0.05, -0.10, 0.08, 0.12, -0.05,
    0.05, 0.10, -0.05, -0.18, -0.10, 0.05, -0.08, -0.12, 0.10, 0.28,
    0.30, 0.35, 0.40, 0.50, 0.30, -1.80, -0.50, 0.35, 0.45, 0.48,
    0.25, 0.00, -0.10, -0.14, -0.06, -0.04, 0.04, 0.09, 0.07, 0.02,
    -0.06, -0.16, -0.04, 0.11, 0.05, 0.06, 0.11, 0.02, -0.03, -0.08,
    -0.06, -0.01, 0.04, 0.06, -0.02, 0.03, 0.12, 0.07, -0.06, -0.11,
    0.08, 0.05, 0.05, 0.15, 0.25, 0.30, 0.35, 0.45, 0.50, -1.00,
    -0.30, 0.02, 0.26, 0.28, 0.15, 0.05]
sync_brown_mid = [
    0.50, 0.28, 0.10, 0.00, -0.25, -0.25, -0.08, 0.04, 0.12, 0.14,
    0.05, -0.06, -0.07, -0.01, -0.07, -0.07, 0.06, 0.12, 0.03, -0.11,
    -0.03, 0.23, 0.00, 0.00, 0.00, 0.27, 0.08, 0.01, -0.06, -0.01,
    0.15, 0.09, -0.07, -0.04, 0.03, 0.03, 0.08, 0.10, 0.07, 0.02,
    0.04, 0.07, 0.00, -0.04, 0.01, 0.05, 0.07, 0.06, 0.04, 0.05,
    -0.05, -0.20, -0.10, 0.09, 0.04, -0.08, -0.01, 0.10, 0.04, 0.00,
    0.08, 0.03, -0.12, -0.14, -0.02, -0.02, -0.10, 0.00, 0.20, 0.30,
    0.32, 0.38, 0.45, 0.00, 0.00, 0.00, 0.00, 0.40, 0.48, 0.38,
    0.12, -0.05, -0.12, -0.10, -0.05, 0.00, 0.07, 0.08, 0.05, -0.02,
    -0.11, -0.10, 0.04, 0.08, 0.06, 0.09, 0.07, 0.00, -0.06, -0.07,
    -0.04, 0.02, 0.05, 0.02, 0.00, 0.08, 0.10, 0.00, -0.09, -0.02,
    0.06, 0.05, 0.10, 0.20, 0.28, 0.33, 0.40, 0.48, 0.00, 0.00,
    0.00, 0.15, 0.27, 0.22, 0.10]
sync_brown_dip_y = [0.06, -0.14, -0.30, -0.54, -0.74, -0.80, -0.30, 0.15, 0.35, 0.47, 0.38,
                    0.55, 0.45, 0.05, -0.55, -1.20, -1.95, -2.32, -2.00, -1.40, -0.80, -0.20, 0.25,
                    0.52, 0.35, -0.05, -0.70, -1.35, -1.72, -1.35, -0.80, -0.40, -0.15]

sync_pink = [
    0.20, 0.10, 0.09, 0.06, -0.04, -0.14, -0.11, 0.03, 0.11, 0.19,
    0.14, -0.01, -0.09, -0.06, 0.03, -0.14, 0.00, 0.13, 0.12, -0.04,
    -0.17, 0.13, 0.37, -0.15, -0.30, 0.37, 0.16, 0.03, 0.01, -0.11,
    0.11, 0.19, -0.01, -0.13, 0.04, 0.01, 0.06, 0.09, 0.11, 0.04,
    0.01, 0.07, 0.06, -0.04, -0.03, 0.04, 0.07, 0.07, 0.04, 0.06,
    0.06, -0.14, -0.24, 0.06, 0.13, -0.04, -0.09, 0.09, 0.13, -0.04,
    0.06, 0.11, -0.04, -0.14, -0.04, 0.09, 0.03, -0.04, 0.01, 0.11,
    0.06, 0.01, 0.26, 0.46, 0.30, -1.80, -0.50, 0.25, 0.28, 0.25,
    0.12, -0.04, -0.11, -0.14, -0.07, -0.04, 0.04, 0.09, 0.09, 0.04,
    -0.04, -0.14, -0.04, 0.11, 0.07, 0.06, 0.11, 0.04, -0.01, -0.06,
    -0.04, -0.01, 0.04, 0.06, -0.02, 0.03, 0.14, 0.09, -0.04, -0.11,
    0.07, 0.01, -0.04, -0.02, 0.04, 0.14, 0.26, 0.38, 0.42, -1.00,
    -0.30, 0.06, 0.22, 0.18, 0.08, 0.02]
sync_pink_mid = [
    0.15, 0.09, 0.08, 0.01, -0.09, -0.12, -0.04, 0.07, 0.15, 0.16,
    0.06, -0.05, -0.08, -0.02, -0.06, -0.07, 0.07, 0.12, 0.04, -0.10,
    -0.02, 0.25, 0.00, 0.00, 0.00, 0.27, 0.09, 0.02, -0.05, 0.00,
    0.15, 0.09, -0.07, -0.04, 0.03, 0.04, 0.08, 0.10, 0.08, 0.03,
    0.04, 0.07, 0.01, -0.04, 0.01, 0.06, 0.07, 0.06, 0.05, 0.06,
    -0.04, -0.19, -0.09, 0.10, 0.05, -0.07, 0.00, 0.11, 0.05, 0.01,
    0.09, 0.04, -0.09, -0.09, 0.03, 0.06, -0.01, -0.02, 0.06, 0.09,
    0.04, 0.13, 0.36, 0.00, 0.00, 0.00, 0.00, 0.27, 0.27, 0.18,
    0.04, -0.08, -0.13, -0.11, -0.06, 0.00, 0.07, 0.09, 0.07, 0.00,
    -0.09, -0.09, 0.04, 0.09, 0.07, 0.09, 0.08, 0.02, -0.04, -0.05,
    -0.03, 0.02, 0.05, 0.02, 0.00, 0.09, 0.12, 0.03, -0.08, -0.03,
    0.04, -0.02, -0.03, 0.01, 0.09, 0.20, 0.32, 0.40, 0.00, 0.00,
    0.00, 0.14, 0.20, 0.13, 0.05]
sync_pink_dip_y = [0.05, -0.15, -0.32, -0.55, -0.75, -0.80, -0.30, 0.15, 0.35, 0.47, 0.38,
                   0.54, 0.38, -0.05, -0.55, -1.10, -1.70, -1.85, -1.60, -1.20, -0.70, -0.20, 0.15,
                   0.42, 0.30, -0.10, -0.65, -1.25, -1.55, -1.20, -0.60, -0.25, -0.05]

# reference data (right rail)
ref_rail = [
    0.42, 0.35, 0.28, 0.22, 0.13, -0.12, -0.33, -0.30, 0.00, 0.25,
    0.45, 0.40, 0.35, 0.30, 0.27, 0.22, 0.28, 0.40, 0.33, 0.15,
    -0.12, 0.30, 0.22, -0.50, -0.90, -0.02, 0.00, -0.25, -0.35, -0.36,
    -0.02, 0.18, 0.02, -0.05, 0.00, 0.00, 0.03, 0.06, 0.08, 0.02,
    0.02, 0.06, 0.08, 0.00, 0.03, 0.05, 0.08, 0.10, 0.06, 0.08,
    0.13, -0.05, -0.12, 0.40, 0.30, 0.15, 0.10, 0.22, 0.28, 0.18,
    0.20, 0.25, 0.15, 0.05, 0.13, 0.28, 0.25, 0.22, 0.27, 0.38,
    0.30, 0.25, 0.28, 0.25, -1.00, -2.40, -0.50, 0.20, 0.47, 0.47,
    0.42, 0.37, 0.32, 0.37, 0.32, 0.30, 0.35, 0.33, 0.27, 0.30,
    0.32, 0.18, 0.20, 0.15, 0.13, 0.14, 0.17, 0.22, 0.15, 0.10,
    0.03, 0.05, 0.10, 0.15, 0.22, 0.25, 0.28, 0.27, 0.22, 0.18,
    0.24, 0.30, 0.35, 0.22, 0.25, 0.30, 0.35, 0.40, 0.13, -1.60,
    -1.25, -0.70, 0.25, 0.25, 0.22, 0.13]
ref_rail_mid = [
    0.30, 0.38, 0.20, 0.25, 0.05, -0.25, -0.35, -0.15, 0.12, 0.38,
    0.42, 0.33, 0.38, 0.25, 0.32, 0.20, 0.38, 0.36, 0.25, 0.02,
    0.10, 0.28, 0.00, 0.00, 0.00, 0.05, -0.15, -0.32, -0.40, -0.20,
    0.10, 0.08, -0.06, 0.02, -0.04, 0.05, 0.00, 0.10, 0.04, 0.06,
    0.00, 0.10, 0.02, 0.05, 0.00, 0.10, 0.04, 0.12, 0.05, 0.12,
    0.05, -0.12, 0.10, 0.47, 0.20, 0.18, 0.12, 0.28, 0.20, 0.22,
    0.18, 0.22, 0.10, 0.08, 0.22, 0.24, 0.28, 0.20, 0.33, 0.40,
    0.25, 0.30, 0.00, 0.00, 0.00, 0.00, 0.00, 0.00, 0.46, 0.44,
    0.40, 0.34, 0.35, 0.34, 0.30, 0.33, 0.34, 0.30, 0.29, 0.32,
    0.25, 0.19, 0.17, 0.14, 0.14, 0.15, 0.20, 0.18, 0.12, 0.06,
    0.04, 0.08, 0.12, 0.19, 0.24, 0.27, 0.28, 0.24, 0.20, 0.20,
    0.27, 0.33, 0.28, 0.22, 0.28, 0.33, 0.38, 0.42, 0.00, 0.00,
    0.00, 0.00, 0.25, 0.23, 0.18]
ref_rail_dip_x = [29.45, 29.53, 29.60, 29.70, 29.75, 29.78, 29.80, 29.83, 29.92,
                  39.45, 39.52, 39.58, 39.64, 39.70, 39.77, 39.82, 39.86, 40.04, 40.10,
                  40.18, 40.27, 40.34, 40.45, 40.55,
                  48.55, 48.62, 48.68, 48.73, 48.78, 48.83, 48.88, 48.93, 48.98, 49.03,
                  49.10, 49.20, 49.28, 49.37]
ref_rail_dip_y = [0.15, -0.31, -0.50, -0.75, -1.05, -1.40, -0.80, -0.41, -0.07,
                  0.28, 0.05, -0.50, -1.15, -1.60, -2.10, -2.35, -2.48, -2.48, -1.93,
                  -1.25, -0.55, 0.08, 0.37, 0.46,
                  0.42, 0.25, -0.10, -0.50, -1.00, -1.60, -2.20, -1.75, -1.45, -1.25,
                  -0.95, -0.65, -0.31, 0.13]


def merge(base_y, mid_y, dip_x, dip_y):
    """Combine the 0.2 m readings, the in-between readings and the dip readings;
    grid readings that fall inside a dip segment are replaced by that segment."""
    assert len(base_y) == len(grid_x), len(base_y)
    assert len(mid_y) == len(grid_mid), len(mid_y)
    assert len(dip_x) == len(dip_y), (len(dip_x), len(dip_y))
    bx = np.r_[grid_x, grid_mid].astype(float)
    by = np.r_[np.asarray(base_y, float), np.asarray(mid_y, float)]
    dx = np.asarray(dip_x, float)
    dy = np.asarray(dip_y, float)
    keep = np.ones(len(bx), bool)
    brk = np.where(np.diff(dx) > 0.3)[0]
    starts = np.r_[0, brk + 1]
    ends = np.r_[brk, len(dx) - 1]
    for s, e in zip(starts, ends):
        keep &= ~((bx >= dx[s] - 1e-9) & (bx <= dx[e] + 1e-9))
    x = np.r_[bx[keep], dx]
    y = np.r_[by[keep], dy]
    o = np.argsort(x, kind="stable")
    return x[o], y[o]


top_series = [
    (top_blue, top_blue_mid, top_blue_dip_x, top_blue_dip_y),
    (top_orange, top_orange_mid, top_orange_dip_x, top_orange_dip_y),
    (top_green, top_green_mid, top_green_dip_x, top_green_dip_y),
    (top_red, top_red_mid, top_red_dip_x, top_red_dip_y),
    (top_purple, top_purple_mid, top_purple_dip_x, top_purple_dip_y),
    (top_brown, top_brown_mid, top_brown_dip_x, top_brown_dip_y),
    (top_pink, top_pink_mid, top_pink_dip_x, top_pink_dip_y),
]
sync_series = [
    (sync_blue, sync_blue_mid, sync_blue_dip_y),
    (sync_orange, sync_orange_mid, sync_orange_dip_y),
    (sync_green, sync_green_mid, sync_green_dip_y),
    (sync_red, sync_red_mid, sync_red_dip_y),
    (sync_purple, sync_purple_mid, sync_purple_dip_y),
    (sync_brown, sync_brown_mid, sync_brown_dip_y),
    (sync_pink, sync_pink_mid, sync_pink_dip_y),
]

# ---------------- figure ----------------
W, H = 1113, 575
L, R, T, B = 68, 0, 26, 41
PH = H - T - B
top_dom = [(H - B - 257) / PH, 1.0]
bot_dom = [0.0, (H - B - 303) / PH]
FS = 14
FONT = "DejaVu Sans, Liberation Sans, Arial, sans-serif"
TXT = "#262626"

fig = go.Figure()

for name, col, (by, my, dx, dy) in zip(journeys, colors, top_series):
    x, y = merge(by, my, dx, dy)
    fig.add_trace(go.Scatter(x=x, y=y, mode="lines", name=name, showlegend=False,
                             line=dict(color=col, width=1.5, dash="5.5px,2.4px"),
                             opacity=0.7, xaxis="x", yaxis="y", hoverinfo="skip"))

for name, col, (by, my, dy) in zip(journeys, colors, sync_series):
    x, y = merge(by, my, sync_dip_x, dy)
    fig.add_trace(go.Scatter(x=x, y=y, mode="lines", name=name, showlegend=False,
                             line=dict(color=col, width=1.5), opacity=0.7,
                             xaxis="x2", yaxis="y2", hoverinfo="skip"))

xr, yr = merge(ref_rail, ref_rail_mid, ref_rail_dip_x, ref_rail_dip_y)
fig.add_trace(go.Scatter(x=xr, y=yr, mode="lines", name="Reference data (right rail)",
                         showlegend=True, line=dict(color="#7f7f7f", width=1.5), opacity=0.7,
                         xaxis="x2", yaxis="y2", hoverinfo="skip"))

ytext = [("\u2212" if v < 0 else "") + f"{abs(v):.1f}" for v in ticks_y]
axis_common = dict(showline=True, mirror=True, linecolor="#333333", linewidth=1,
                   showgrid=True, gridcolor="#d0d0d0", gridwidth=1, zeroline=False,
                   ticks="outside", ticklen=4, tickwidth=1, tickcolor="#333333",
                   tickfont=dict(family=FONT, size=FS, color=TXT))
xrange_ = [23.75, 23.75 + (W - L) / 38.08]
yrange_ = [-2.627, 0.768]

fig.update_layout(
    width=W, height=H, margin=dict(l=L, r=R, t=T, b=B),
    paper_bgcolor="white", plot_bgcolor="white",
    font=dict(family=FONT, size=FS, color=TXT),
    xaxis=dict(domain=[0, 1], anchor="y", range=xrange_, tickvals=ticks_x,
               showticklabels=False, **axis_common),
    yaxis=dict(domain=top_dom, anchor="x", range=yrange_, tickvals=ticks_y,
               ticktext=ytext, **axis_common),
    xaxis2=dict(domain=[0, 1], anchor="y2", range=xrange_, tickvals=ticks_x,
                ticktext=[str(v) for v in ticks_x], **axis_common),
    yaxis2=dict(domain=bot_dom, anchor="x2", range=yrange_, tickvals=ticks_y,
                ticktext=ytext, **axis_common),
    legend=dict(x=(75 - L) / (W - L), y=(H - B - 527) / PH, xanchor="left", yanchor="bottom",
                bgcolor="rgba(255,255,255,0.8)", bordercolor="#cccccc", borderwidth=1,
                font=dict(family=FONT, size=FS, color=TXT)),
    showlegend=True,
)


def px_to_paper(xp, yp):
    return (xp - L) / (W - L), (H - B - yp) / PH


annots = [
    ("Pre-processed and double integrated ABA data for 7 journeys", 591, 15, 0),
    ("Pre-processed, double integrated, detrended and synchronised ABA data for 7 journeys", 591, 292, 0),
    ("Track distance in m", 591, 267, 0),
    ("Track distance in m", 591, 565, 0),
    ("Height in mm", 17, 142, -90),
    ("Height in mm", 17, 419, -90),
]
for text, xp, yp, ang in annots:
    ax_, ay_ = px_to_paper(xp, yp)
    fig.add_annotation(text=text, x=ax_, y=ay_, xref="paper", yref="paper",
                       xanchor="center", yanchor="middle", showarrow=False, textangle=ang,
                       font=dict(family=FONT, size=FS, color=TXT))

# empty legend frame of the top panel
x0, y0 = px_to_paper(1099, 44)
x1, y1 = px_to_paper(1110, 33)
fig.add_shape(type="rect", xref="paper", yref="paper", x0=x0, y0=y0, x1=x1, y1=y1,
              line=dict(color="#cccccc", width=1), fillcolor="rgba(255,255,255,0.8)")

fig.write_html("out.html", config={"displayModeBar": False})
